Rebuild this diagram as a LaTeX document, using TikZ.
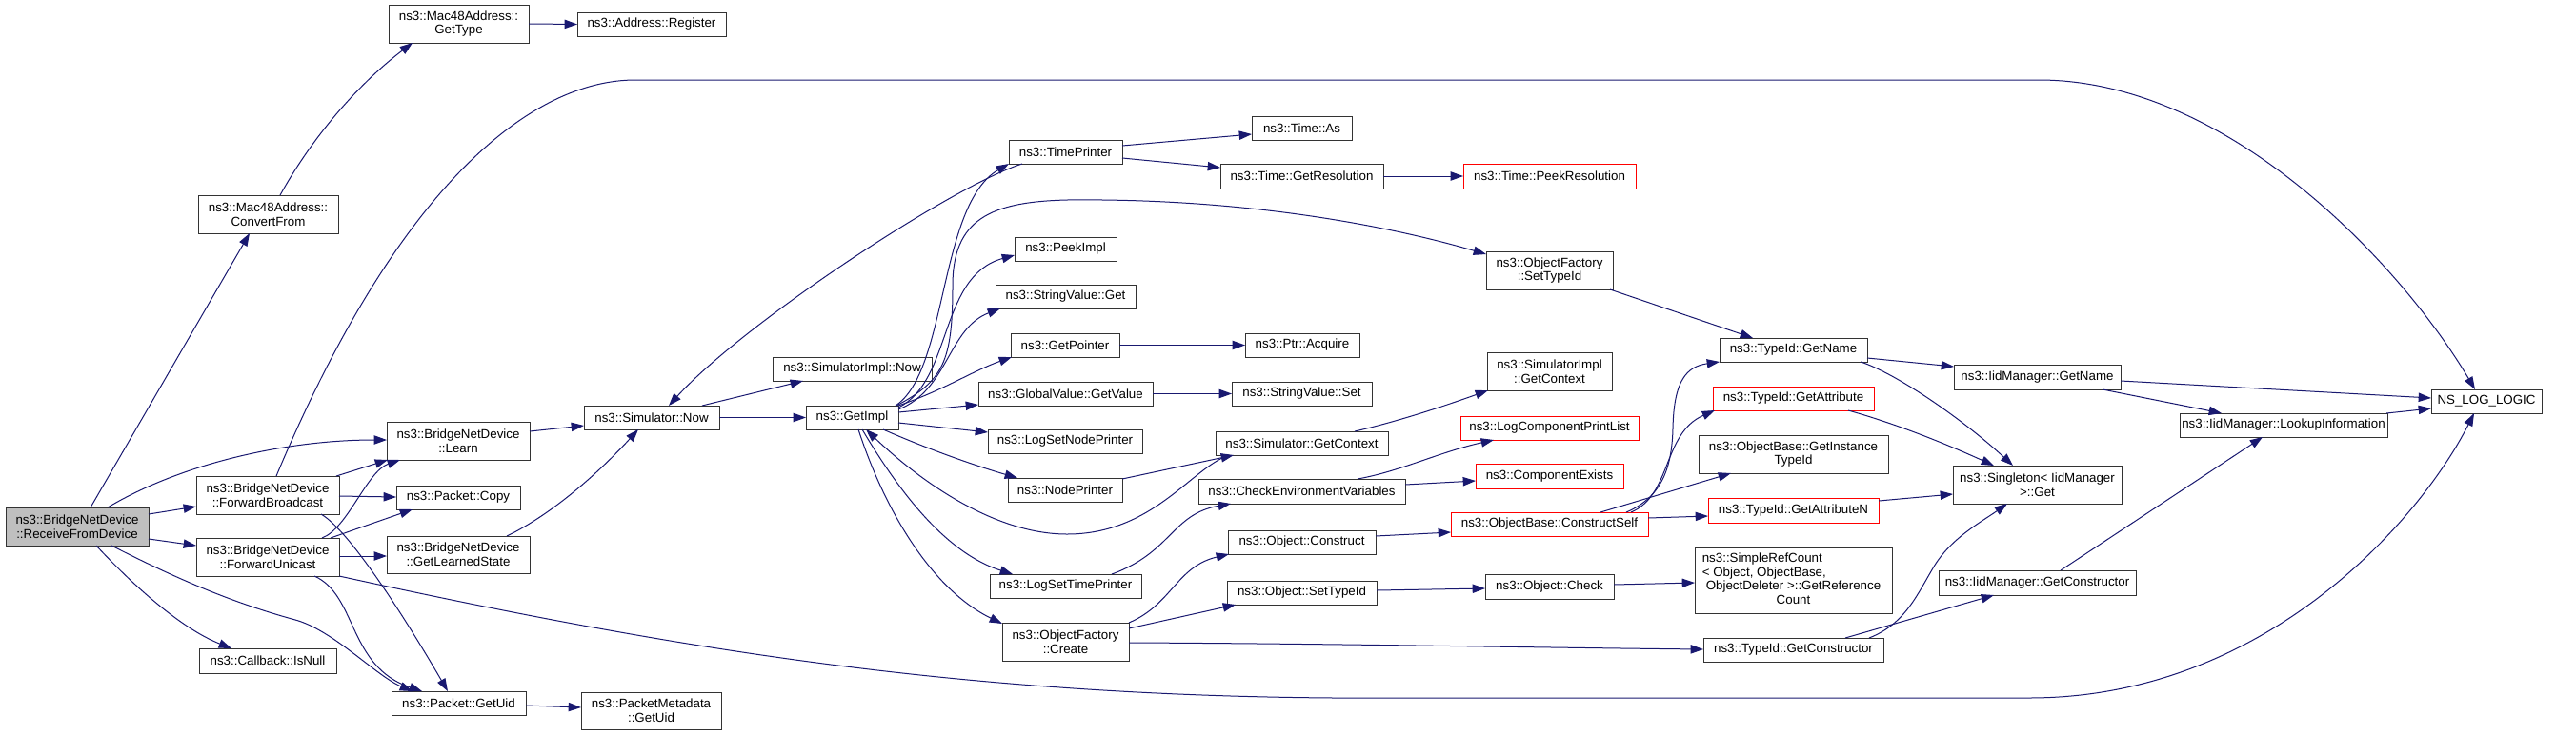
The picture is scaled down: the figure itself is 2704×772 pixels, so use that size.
\documentclass[tikz,border=0pt]{standalone}
\usepackage{fontspec}
\setmainfont{Liberation Sans}
\usetikzlibrary{arrows.meta,calc}
\definecolor{midnight}{HTML}{191970}
\newcommand\mkbox[7][]{%
  \node[box,#1,minimum width={(#5-#3)*0.75pt},minimum height={(#6-#4)*0.75pt}] (#2) at ({(#3+#5)/2},{(#4+#6)/2}) {#7};}
\begin{document}
\begin{tikzpicture}[x=0.75pt,y=-0.75pt,font=\fontsize{10}{11}\selectfont,
  box/.style={draw=black!80,line width=0.75pt,fill=white,rectangle,inner sep=0pt,outer sep=0pt,align=center},
  redbox/.style={draw=red},
  root/.style={fill=black!25},
  edge/.style={draw=midnight,line width=0.75pt,-{Triangle[length=10pt,width=7pt]}}]
\fill[white] (0,0) rectangle (2704,772);
\useasboundingbox (0,0) rectangle (2704,772);
% nodes
\mkbox[root]{R}{6}{533}{156}{573}{ns3::BridgeNetDevice\\::ReceiveFromDevice}
\mkbox{CF}{208}{205}{355}{245}{ns3::Mac48Address::\\ConvertFrom}
\mkbox{GT}{408}{5}{555}{45}{ns3::Mac48Address::\\GetType}
\mkbox{AR}{606}{13}{762}{38}{ns3::Address::Register}
\mkbox{FB}{206}{500}{356}{540}{ns3::BridgeNetDevice\\::ForwardBroadcast}
\mkbox{FU}{206}{565}{356}{605}{ns3::BridgeNetDevice\\::ForwardUnicast}
\mkbox{IN}{209}{681}{353}{707}{ns3::Callback::IsNull}
\mkbox{LE}{406}{443}{556}{483}{ns3::BridgeNetDevice\\::Learn}
\mkbox{PC}{416}{510}{546}{535}{ns3::Packet::Copy}
\mkbox{GLS}{406}{563}{556}{602}{ns3::BridgeNetDevice\\::GetLearnedState}
\mkbox{PG}{411}{726}{552}{751}{ns3::Packet::GetUid}
\mkbox{PMG}{610}{727}{757}{766}{ns3::PacketMetadata\\::GetUid}
\mkbox{SN}{613}{426}{755}{451}{ns3::Simulator::Now}
\mkbox{SIN}{811}{375}{978}{400}{ns3::SimulatorImpl::Now}
\mkbox{GI}{846}{426}{943}{451}{ns3::GetImpl}
\mkbox{TP}{1059}{147}{1178}{172}{ns3::TimePrinter}
\mkbox{PI}{1065}{249}{1172}{274}{ns3::PeekImpl}
\mkbox{SVG}{1045}{299}{1192}{324}{ns3::StringValue::Get}
\mkbox{GP}{1061}{350}{1175}{375}{ns3::GetPointer}
\mkbox{GVG}{1027}{401}{1210}{426}{ns3::GlobalValue::GetValue}
\mkbox{LSNP}{1037}{451}{1199}{476}{ns3::LogSetNodePrinter}
\mkbox{NP}{1058}{502}{1178}{527}{ns3::NodePrinter}
\mkbox{LSTP}{1039}{603}{1198}{628}{ns3::LogSetTimePrinter}
\mkbox{OFC}{1052}{654}{1185}{694}{ns3::ObjectFactory\\::Create}
\mkbox{TA}{1314}{122}{1419}{147}{ns3::Time::As}
\mkbox{TGR}{1281}{172}{1452}{198}{ns3::Time::GetResolution}
\mkbox[redbox]{TPR}{1536}{172}{1717}{198}{ns3::Time::PeekResolution}
\mkbox{OFS}{1560}{264}{1693}{304}{ns3::ObjectFactory\\::SetTypeId}
\mkbox{PA}{1307}{350}{1427}{375}{ns3::Ptr::Acquire}
\mkbox{SIGC}{1561}{370}{1692}{410}{ns3::SimulatorImpl\\::GetContext}
\mkbox{SVS}{1293}{401}{1440}{426}{ns3::StringValue::Set}
\mkbox{SGC}{1276}{453}{1457}{478}{ns3::Simulator::GetContext}
\mkbox{CEV}{1258}{503}{1475}{529}{ns3::CheckEnvironmentVariables}
\mkbox{OC}{1289}{557}{1444}{582}{ns3::Object::Construct}
\mkbox{OST}{1288}{610}{1445}{635}{ns3::Object::SetTypeId}
\mkbox[redbox]{LCPL}{1533}{437}{1720}{462}{ns3::LogComponentPrintList}
\mkbox[redbox]{CE}{1549}{487}{1704}{513}{ns3::ComponentExists}
\mkbox[redbox]{OBCS}{1523}{538}{1730}{563}{ns3::ObjectBase::ConstructSelf}
\mkbox{OCK}{1559}{603}{1694}{629}{ns3::Object::Check}
\mkbox{TGN}{1805}{355}{1960}{380}{ns3::TypeId::GetName}
\mkbox{IMGN}{2051}{383}{2226}{409}{ns3::IidManager::GetName}
\mkbox[redbox]{TGA}{1798}{406}{1967}{431}{ns3::TypeId::GetAttribute}
\mkbox{OBGIT}{1783}{457}{1982}{497}{ns3::ObjectBase::GetInstance\\TypeId}
\mkbox[redbox]{TGAN}{1793}{523}{1972}{549}{ns3::TypeId::GetAttributeN}
\mkbox{SRC}{1779}{575}{1986}{644}{\begin{tabular}{@{\hspace{-3pt}}l@{}}ns3::SimpleRefCount\\< Object, ObjectBase,\\\multicolumn{1}{@{}c@{}}{ObjectDeleter >::GetReference}\\\multicolumn{1}{@{}c@{}}{Count}\end{tabular}}
\mkbox{TGC}{1788}{670}{1977}{695}{ns3::TypeId::GetConstructor}
\mkbox{SG}{2050}{489}{2227}{529}{ns3::Singleton< IidManager\\ >::Get}
\mkbox{IMGC}{2035}{599}{2242}{625}{ns3::IidManager::GetConstructor}
\mkbox{NLL}{2552}{409}{2668}{434}{NS\_LOG\_LOGIC}
\mkbox{ILI}{2288}{434}{2506}{459}{ns3::IidManager::LookupInformation}
% edges
\draw[edge] ($(R.north west)+(89,0)$) -- ($(CF.north west)+(54,40)$);
\draw[edge] ($(R.north west)+(107,0)$) .. controls (190,487) and (300,462) .. ($(LE.north west)+(0,19)$);
\draw[edge] ($(R.north west)+(150,7)$) -- ($(FB.north west)+(0,32)$);
\draw[edge] ($(R.north west)+(150,33)$) -- ($(FU.north west)+(0,8)$);
\draw[edge] ($(R.north west)+(95,40)$) .. controls (140,615) and (190,660) .. ($(IN.north west)+(34,0)$);
\draw[edge] ($(R.north west)+(111,40)$) .. controls (180,605) and (240,632) .. (310,651) .. controls (350,662) and (395,710) .. ($(PG.north west)+(22,0)$);
\draw[edge] ($(FB.north west)+(84,0)$) .. controls (420,190) and (560,84) .. (667,84) -- (2140,84) .. controls (2340,84) and (2521,279) .. ($(NLL.north west)+(46,0)$);
\draw[edge] ($(FB.north west)+(147,0)$) -- ($(LE.north west)+(1,40)$);
\draw[edge] ($(FB.north west)+(150,21)$) -- ($(PC.north west)+(0,12)$);
\draw[edge] ($(FB.north west)+(131,40)$) .. controls (365,556) and (420,640) .. ($(PG.north west)+(59,0)$);
\draw[edge] ($(FU.north west)+(132,0)$) .. controls (365,555) and (385,495) .. ($(LE.north west)+(14,40)$);
\draw[edge] ($(FU.north west)+(141,0)$) -- ($(PC.north west)+(17,25)$);
\draw[edge] ($(FU.north west)+(150,19)$) -- ($(GLS.north west)+(0,21)$);
\draw[edge] ($(FU.north west)+(124,40)$) .. controls (375,625) and (365,700) .. ($(PG.north west)+(32,0)$);
\draw[edge] ($(FU.north west)+(150,40)$) .. controls (700,680) and (1000,730) .. (1400,733) -- (2130,733) .. controls (2380,733) and (2542,543) .. ($(NLL.north west)+(45,25)$);
\draw[edge] ($(CF.north west)+(86,0)$) .. controls (330,140) and (380,85) .. ($(GT.north west)+(25,40)$);
\draw[edge] (GT.east) -- (AR.west);
\draw[edge] ($(LE.north west)+(150,10)$) -- ($(SN.north west)+(0,21)$);
\draw[edge] ($(GLS.north west)+(126,0)$) .. controls (580,540) and (630,495) .. ($(SN.north west)+(57,25)$);
\draw[edge] ($(PG.north west)+(141,15)$) -- ($(PMG.north west)+(0,16)$);
\draw[edge] ($(SN.north west)+(124,0)$) -- ($(SIN.north west)+(32,25)$);
\draw[edge] (SN.east) -- (GI.west);
\draw[edge] ($(TP.north west)+(14,25)$) .. controls (1000,195) and (780,340) .. ($(SN.north west)+(89,0)$);
\draw[edge] ($(GI.north west)+(94,0)$) .. controls (995,390) and (985,215) .. ($(TP.north west)+(0,25)$);
\draw[edge] ($(GI.north west)+(95,0)$) .. controls (990,400) and (1000,380) .. (1000,300) .. controls (1000,230) and (1040,212) .. (1120,210) .. controls (1300,208) and (1450,235) .. ($(OFS.north west)+(0,3)$);
\draw[edge] ($(GI.north west)+(97,2)$) .. controls (1000,400) and (985,290) .. ($(PI.north west)+(0,19)$);
\draw[edge] ($(GI.north west)+(97,4)$) .. controls (995,410) and (995,345) .. ($(SVG.north west)+(5,25)$);
\draw[edge] ($(GI.north west)+(97,0)$) .. controls (990,410) and (1020,390) .. ($(GP.north west)+(1,25)$);
\draw[edge] ($(GI.north west)+(97,7)$) -- ($(GVG.north west)+(0,24)$);
\draw[edge] ($(GI.north west)+(97,18)$) -- ($(LSNP.north west)+(0,3)$);
\draw[edge] ($(GI.north west)+(81,25)$) .. controls (970,470) and (1020,488) .. ($(NP.north west)+(10,0)$);
\draw[edge] ($(SGC.north west)+(14,25)$) .. controls (1250,492) and (1210,561) .. (1120,561) .. controls (1040,561) and (960,500) .. ($(GI.north west)+(63,25)$);
\draw[edge] ($(GI.north west)+(59,25)$) .. controls (940,510) and (990,580) .. ($(LSTP.north west)+(24,0)$);
\draw[edge] ($(GI.north west)+(55,25)$) .. controls (930,540) and (980,620) .. ($(OFC.north west)+(0,1)$);
\draw[edge] ($(TP.north west)+(119,6)$) -- ($(TA.north west)+(0,19)$);
\draw[edge] ($(TP.north west)+(119,19)$) -- ($(TGR.north west)+(0,4)$);
\draw[edge] (TGR.east) -- (TPR.west);
\draw[edge] (GP.east) -- (PA.west);
\draw[edge] (GVG.east) -- (SVS.west);
\draw[edge] ($(NP.north west)+(120,1)$) -- ($(SGC.north west)+(19,25)$);
\draw[edge] ($(SGC.north west)+(146,0)$) .. controls (1470,442) and (1520,425) .. ($(SIGC.north west)+(1,40)$);
\draw[edge] ($(LSTP.north west)+(128,0)$) .. controls (1230,580) and (1230,540) .. ($(CEV.north west)+(34,26)$);
\draw[edge] ($(CEV.north west)+(167,0)$) .. controls (1470,495) and (1510,475) .. ($(LCPL.north west)+(35,25)$);
\draw[edge] ($(CEV.north west)+(217,6)$) -- ($(CE.north west)+(0,18)$);
\draw[edge] ($(OFC.north west)+(133,0)$) .. controls (1230,635) and (1235,595) .. ($(OC.north west)+(1,25)$);
\draw[edge] ($(OFC.north west)+(133,6)$) -- ($(OST.north west)+(9,25)$);
\draw[edge] ($(OFC.north west)+(133,21)$) .. controls (1400,676) and (1600,680) .. ($(TGC.north west)+(0,12)$);
\draw[edge] ($(OFS.north west)+(130,40)$) -- ($(TGN.north west)+(35,0)$);
\draw[edge] ($(OC.north west)+(155,6)$) -- ($(OBCS.north west)+(0,21)$);
\draw[edge] ($(OST.north west)+(157,10)$) -- ($(OCK.north west)+(0,15)$);
\draw[edge] ($(OCK.north west)+(135,11)$) -- ($(SRC.north west)+(0,37)$);
\draw[edge] ($(OBCS.north west)+(184,0)$) .. controls (1745,522) and (1755,490) .. (1756,450) .. controls (1757,400) and (1770,385) .. ($(TGN.north west)+(0,25)$);
\draw[edge] ($(OBCS.north west)+(189,0)$) .. controls (1755,520) and (1745,455) .. ($(TGA.north west)+(2,25)$);
\draw[edge] ($(OBCS.north west)+(157,0)$) -- ($(OBGIT.north west)+(34,40)$);
\draw[edge] ($(OBCS.north west)+(207,6)$) -- ($(TGAN.north west)+(0,19)$);
\draw[edge] ($(TGN.north west)+(155,21)$) -- ($(IMGN.north west)+(0,2)$);
\draw[edge] ($(TGN.north west)+(148,25)$) .. controls (1990,392) and (2060,440) .. ($(SG.north west)+(63,0)$);
\draw[edge] ($(TGA.north west)+(142,25)$) .. controls (1990,445) and (2040,465) .. ($(SG.north west)+(43,0)$);
\draw[edge] ($(TGAN.north west)+(179,3)$) -- ($(SG.north west)+(0,30)$);
\draw[edge] ($(TGC.north west)+(174,0)$) .. controls (2000,655) and (2012,625) .. (2030,595) .. controls (2048,565) and (2080,548) .. ($(SG.north west)+(57,40)$);
\draw[edge] ($(TGC.north west)+(149,0)$) -- ($(IMGC.north west)+(58,26)$);
\draw[edge] ($(IMGN.north west)+(175,17)$) -- ($(NLL.north west)+(0,9)$);
\draw[edge] ($(IMGN.north west)+(156,26)$) -- ($(ILI.north west)+(44,0)$);
\draw[edge] ($(ILI.north west)+(217,0)$) -- ($(NLL.north west)+(0,20)$);
\draw[edge] ($(IMGC.north west)+(128,0)$) -- ($(ILI.north west)+(87,25)$);
\end{tikzpicture}
\end{document}
